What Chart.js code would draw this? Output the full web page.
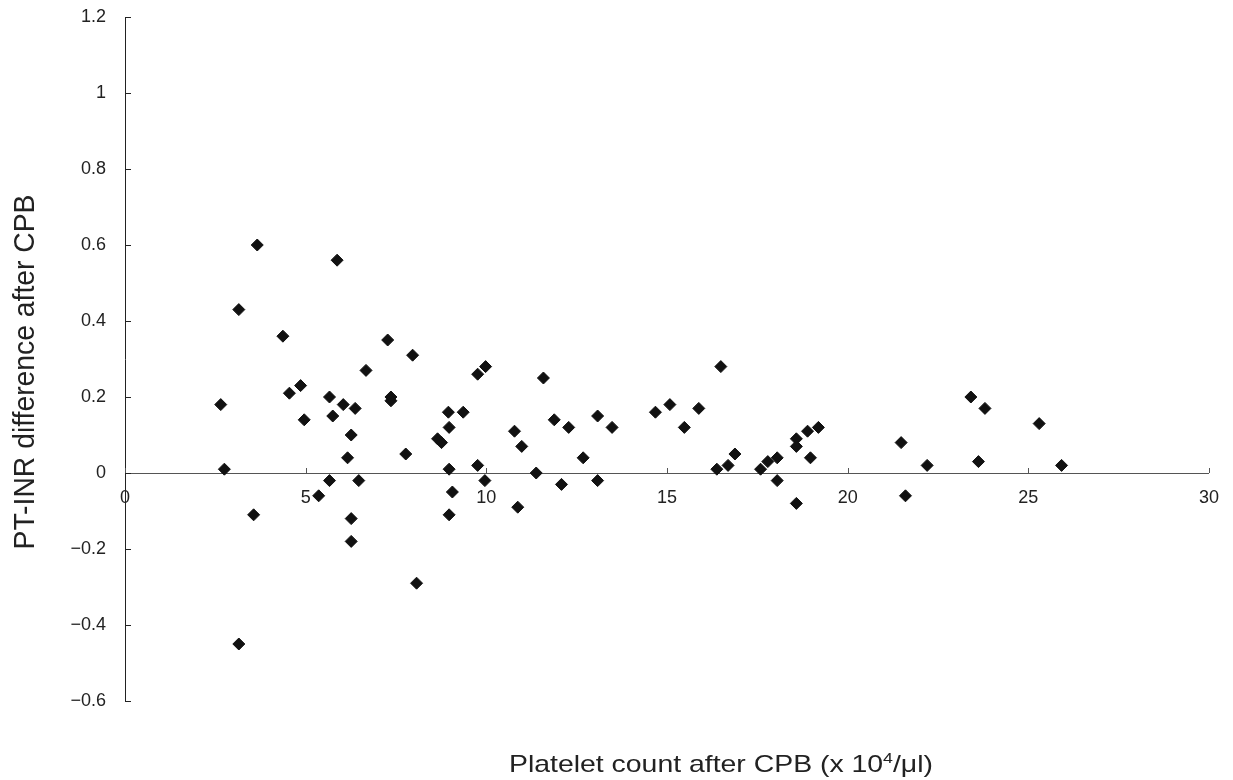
<!DOCTYPE html>
<html>
<head>
<meta charset="utf-8">
<title>PT-INR difference vs platelet count</title>
<script src="https://cdn.jsdelivr.net/npm/chart.js@4/dist/chart.umd.min.js"></script>
<style>
    html, body { margin: 0; padding: 0; background: #ffffff; }
    canvas { display: block; }
</style>
</head>
<body>
<canvas id="scatterChart" width="1233" height="780"></canvas>
<script>
// Données (plaquettes après CEC, x 10^4/µl)
const plateletCount = [
    2.65, 2.75, 3.15, 3.15, 3.56, 3.66, 4.37, 4.55, 4.86, 4.96,
    5.36, 5.66, 5.66, 5.75, 5.87, 6.04, 6.16, 6.26, 6.26, 6.26,
    6.37, 6.47, 6.67, 7.27, 7.36, 7.36, 7.77, 7.96, 8.07, 8.65,
    8.76, 8.95, 8.97, 8.97, 8.97, 9.06, 9.36, 9.76, 9.76, 9.96,
    9.98, 10.78, 10.87, 10.98, 11.38, 11.58, 11.88, 12.08, 12.28, 12.68,
    13.08, 13.08, 13.48, 14.68, 15.08, 15.48, 15.88, 16.38, 16.49, 16.69,
    16.88, 17.59, 17.79, 18.05, 18.05, 18.58, 18.58, 18.58, 18.89, 18.97,
    19.19, 21.48, 21.6, 22.2, 23.41, 23.62, 23.8, 25.3, 25.92
];
// Différence de PT-INR après CEC
const inrDifference = [
    0.18, 0.01, 0.43, -0.45, -0.11, 0.60, 0.36, 0.21, 0.23, 0.14,
    -0.06, 0.20, -0.02, 0.15, 0.56, 0.18, 0.04, 0.10, -0.12, -0.18,
    0.17, -0.02, 0.27, 0.35, 0.20, 0.19, 0.05, 0.31, -0.29, 0.09,
    0.08, 0.16, 0.12, 0.01, -0.11, -0.05, 0.16, 0.26, 0.02, -0.02,
    0.28, 0.11, -0.09, 0.07, 0.00, 0.25, 0.14, -0.03, 0.12, 0.04,
    0.15, -0.02, 0.12, 0.16, 0.18, 0.12, 0.17, 0.01, 0.28, 0.02,
    0.05, 0.01, 0.03, 0.04, -0.02, 0.09, 0.07, -0.08, 0.11, 0.04,
    0.12, 0.08, -0.06, 0.02, 0.20, 0.03, 0.17, 0.13, 0.02
];
// Bornes et pas des axes
const xTicks = { min: 0, max: 30, step: 5 };
const yTicks = { min: -0.6, max: 1.2, step: 0.2 };

const xTitle = ['Platelet count after CPB (x 10', '4', '/μl)'];
const yTitle = 'PT-INR difference after CPB';

const FONT = '"Liberation Sans", Arial, sans-serif';

// Petites graduations tournées vers l'intérieur + titres des axes
const axisDecor = {
    id: 'axisDecor',
    afterDraw(chart) {
        const ctx = chart.ctx;
        const xs = chart.scales.x;
        const ys = chart.scales.y;
        const x0 = xs.getPixelForValue(0);
        const y0 = ys.getPixelForValue(0);

        ctx.save();
        ctx.lineWidth = 1;
        ctx.strokeStyle = '#555';
        xs.ticks.forEach(t => {
            const px = Math.round(xs.getPixelForValue(t.value)) + 0.5;
            ctx.beginPath();
            ctx.moveTo(px, y0);
            ctx.lineTo(px, y0 - 5);
            ctx.stroke();
        });
        ctx.strokeStyle = '#222';
        ys.ticks.forEach(t => {
            const py = Math.round(ys.getPixelForValue(t.value)) + 0.5;
            ctx.beginPath();
            ctx.moveTo(x0, py);
            ctx.lineTo(x0 + 6, py);
            ctx.stroke();
        });

        // Titre de l'axe X (avec exposant)
        ctx.fillStyle = '#222';
        ctx.textBaseline = 'alphabetic';
        ctx.textAlign = 'left';
        const big = '24px ' + FONT;
        const small = '15px ' + FONT;
        ctx.font = big;
        const w1 = ctx.measureText(xTitle[0]).width;
        const w3 = ctx.measureText(xTitle[2]).width;
        ctx.font = small;
        const w2 = ctx.measureText(xTitle[1]).width;
        const total = w1 + w2 + w3;
        const target = 424;
        ctx.save();
        ctx.translate(509, 772);
        ctx.scale(target / total, 1);
        ctx.font = big;
        ctx.fillText(xTitle[0], 0, 0);
        ctx.font = small;
        ctx.fillText(xTitle[1], w1, -9);
        ctx.font = big;
        ctx.fillText(xTitle[2], w1 + w2, 0);
        ctx.restore();

        // Titre de l'axe Y (vertical)
        ctx.save();
        ctx.font = '29px ' + FONT;
        const wy = ctx.measureText(yTitle).width;
        ctx.translate(34, 372);
        ctx.rotate(-Math.PI / 2);
        ctx.scale(355 / wy, 1);
        ctx.textAlign = 'center';
        ctx.fillText(yTitle, 0, 0);
        ctx.restore();

        ctx.restore();
    }
};

new Chart(document.getElementById('scatterChart'), {
    type: 'scatter',
    data: {
        datasets: [{
            data: plateletCount.map((x, i) => ({ x: x, y: inrDifference[i] })),
            pointStyle: 'rectRot',
            pointRadius: 6,
            pointHoverRadius: 6,
            backgroundColor: '#111',
            borderColor: '#111',
            borderWidth: 1
        }]
    },
    options: {
        responsive: false,
        animation: false,
        layout: { padding: { top: 17, right: 21, bottom: 79, left: 0 } },
        plugins: {
            legend: { display: false },
            tooltip: { enabled: false }
        },
        scales: {
            x: {
                type: 'linear',
                position: { y: 0 },
                min: xTicks.min,
                max: xTicks.max,
                grid: { display: false, drawTicks: false },
                border: { display: true, color: '#555', width: 1 },
                ticks: {
                    stepSize: xTicks.step,
                    color: '#222',
                    padding: 14,
                    maxRotation: 0,
                    font: { size: 18, family: FONT }
                }
            },
            y: {
                type: 'linear',
                position: 'left',
                min: yTicks.min,
                max: yTicks.max,
                afterFit(scale) {
                    scale.width = 125;
                    scale.paddingTop = 0;
                    scale.paddingBottom = 0;
                },
                grid: { display: false, drawTicks: false },
                border: { display: true, color: '#222', width: 1 },
                ticks: {
                    stepSize: yTicks.step,
                    color: '#222',
                    padding: 19,
                    font: { size: 18, family: FONT },
                    callback: function (value) {
                        const v = Math.round(value * 10) / 10;
                        return String(v).replace('-', '\u2212');
                    }
                }
            }
        }
    },
    plugins: [axisDecor]
});
</script>
</body>
</html>
